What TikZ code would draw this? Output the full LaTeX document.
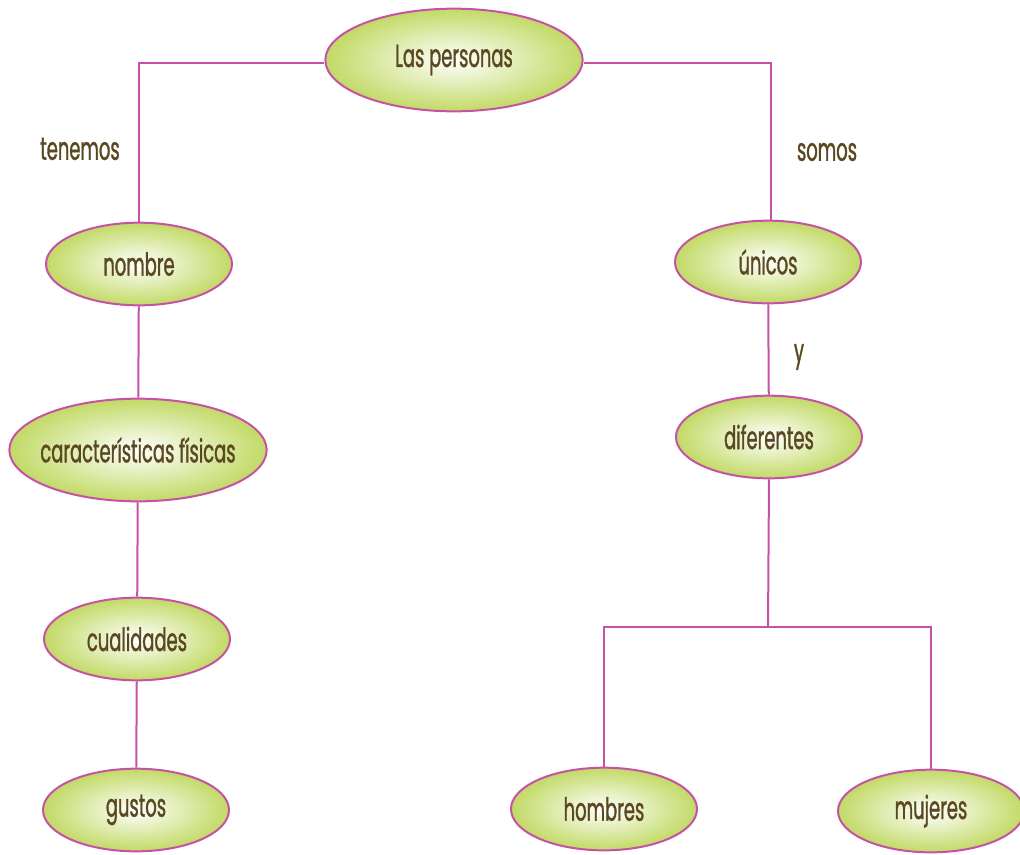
\documentclass[tikz,border=0pt]{standalone}
\usepackage{fontspec}
\setmainfont[FakeStretch=0.56,FakeBold=1]{Poppins}
\usepackage{xcolor}
\usepackage{tikz}
\usetikzlibrary{shapes.geometric,positioning}

\definecolor{linkpink}{HTML}{C652A6}
\definecolor{leafgreen}{HTML}{C2DA66}
\definecolor{wordbrown}{HTML}{5A4820}

\begin{document}
\begin{tikzpicture}[
    x=0.75pt, y=-0.75pt,
    idea/.style = {ellipse, draw=linkpink, line width=1.5pt, inner sep=0pt,
                   shading=radial, inner color=white, outer color=leafgreen,
                   minimum width=139.5pt, minimum height=62pt,
                   text=wordbrown, font=\fontsize{24}{28}\selectfont},
    bigidea/.style = {idea, inner xsep=-6pt, minimum width=193pt, minimum height=77pt},
    link/.style = {text=wordbrown, font=\fontsize{24}{28}\selectfont},
    wire/.style = {draw=linkpink, line width=1.5pt}
]
\useasboundingbox (0,0) rectangle (1020,854);

\node[bigidea] (Per) at (454,60) {Las personas};

\node[idea] (Nom) at (139,264) {nombre};
\node[bigidea] (Car) at (138,450) {características físicas};
\node[idea] (Cua) at (137,639) {cualidades};
\node[idea] (Gus) at (136,810) {gustos};

\node[idea] (Uni) at (768,262) {únicos};
\node[idea] (Dif) at (769,437) {diferentes};
\node[idea] (Hom) at (604,809) {hombres};
\node[idea] (Muj) at (931,811) {mujeres};

\node[link] (Ten) at (80,149) {tenemos};
\node[link] (Som) at (827,152) {somos};
\node[link] (Yy) at (799,357) {y};

\coordinate (Split) at (768,627);

\draw[wire] ([yshift=-2.25pt]Per.west) -| (Nom.north);
\draw[wire] ([yshift=-2.25pt]Per.east) -| ([xshift=2.25pt]Uni.north);
\draw[wire] (Nom) -- (Car);
\draw[wire] (Car) -- (Cua);
\draw[wire] (Cua) -- (Gus);
\draw[wire] (Uni) -- (Dif);
\draw[wire] (Dif.south) -- (Split);
\draw[wire] (Split) -| (Hom.north);
\draw[wire] (Split) -| (Muj.north);

\end{tikzpicture}
\end{document}
